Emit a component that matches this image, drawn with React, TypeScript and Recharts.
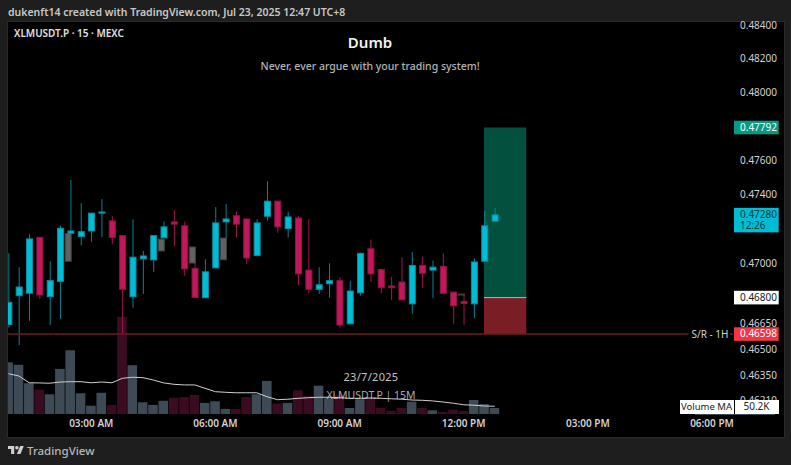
import React from 'react';
import { ComposedChart, Bar, Line, XAxis, YAxis, ReferenceArea, ReferenceLine } from 'recharts';

const FONT = '"Noto Sans", sans-serif';

const opens = [.46645,.46811,.46825,.47149,.46805,.46894,.47173,.47153,.47186,.4729,.47245,.47159,.46805,.47024,.47018,.47146,.47239,.47216,.46969,.46799,.46972,.47239,.47275,.47256,.47043,.47272,.4736,.472,.47262,.46959,.46848,.4688,.46898,.46649,.46828,.47083,.46963,.46867,.4689,.46764,.46986,.46959,.46981,.46832,.46778,.46764,.4701,.47243];
const highs = [.47056,.46976,.47169,.47149,.4701,.47216,.47483,.47348,.4729,.47372,.47273,.47159,.47254,.4707,.47159,.47241,.47309,.47241,.47002,.47022,.47325,.47344,.47299,.47256,.47254,.47477,.4736,.47299,.47273,.47254,.46976,.46998,.46918,.46898,.4706,.47136,.46966,.46921,.47034,.47065,.47037,.47014,.47056,.46832,.46821,.47028,.47303,.47321];
const lows = [.46627,.46527,.46666,.46791,.46642,.46676,.47173,.47103,.47123,.47149,.47109,.46594,.46742,.46821,.46947,.47146,.47095,.46926,.46797,.46799,.46972,.47144,.47149,.46994,.47041,.47247,.47176,.47149,.46873,.46825,.46821,.46799,.46627,.46649,.46811,.4689,.46825,.46785,.46787,.46707,.46857,.46797,.46825,.46649,.46643,.46681,.4701,.47243];
const closes = [.46772,.46861,.4714,.46815,.46898,.47202,.47186,.47182,.4729,.47297,.47149,.46848,.47034,.47041,.47159,.4721,.47226,.46966,.46801,.46949,.47233,.47256,.47226,.47029,.47233,.4736,.4721,.47268,.46937,.46848,.46874,.46898,.46642,.46838,.47056,.46937,.46857,.46857,.46787,.46986,.46941,.46976,.46825,.46752,.46766,.47006,.47216,.4728];
const volumes = [336,320,200,158,128,293,414,135,54,138,59,632,317,76,59,86,106,110,124,72,83,33,33,110,128,215,67,72,154,117,184,102,124,39,96,109,39,21,39,80,39,24,13,28,20,91,65,39];
const volumeMA = [262,247,203,202,200,208,210,210,203,208,203,232,239,236,221,202,193,189,189,167,145,141,138,138,138,112,93,96,102,106,109,109,106,102,102,104,102,99,96,91,89,85,78,70,60,57,52,50.2];

const ghostAt = [6, 15, 18, 21, 44];
const ghostLow = [.4701, .4707, .47, .47019, .46815];
const ghostHigh = [.47172, .47139, .47093, .47145, .4682];

const tickSlots = [8, 20, 32, 44, 56, 68];
const tickLabels = ['03:00 AM', '06:00 AM', '09:00 AM', '12:00 PM', '03:00 PM', '06:00 PM'];

const priceTicks = [.484, .482, .48, .476, .474, .47, .4665, .465, .4635, .4621];
const priceTickText = ['0.48400', '0.48200', '0.48000', '0.47600', '0.47400', '0.47000', '0.46650', '0.46500', '0.46350', '0.46210'];

const targetLevel = .47792;
const lastLevel = .4728;
const entryLevel = .468;
const srLevel = .4659;
const tagLevels = [targetLevel, lastLevel, entryLevel, srLevel];
const tagText = ['0.47792', '0.47280', '0.46800', '0.46598'];
const tagSub = ['', '12:26', '', ''];
const tagBg = ['#089981', '#00bcd4', '#ffffff', '#f23645'];
const tagFg = ['#ffffff', '#0a3a44', '#222222', '#ffffff'];

const boxFrom = 45.96;
const boxTo = 50.05;
const srBreak = 65.7;
const srResume = 69.7;

const xDomain: [number, number] = [-0.05, 70.03];
const priceDomain: [number, number] = [.46133, .48418];
const volDomain: [number, number] = [0, 2548];

const rows: any[] = opens.map((o, i) => {
  const g = ghostAt.indexOf(i);
  return {
    x: i, open: o, close: closes[i], high: highs[i], low: lows[i],
    range: [lows[i], highs[i]], vol: volumes[i], ma: volumeMA[i],
    ghost: g >= 0 ? [ghostLow[g], ghostHigh[g]] : undefined,
  };
});

function CandleShape(props: any) {
  const { x, y, width, height, payload } = props;
  if (!payload || !payload.range) return null;
  const { open, close, high, low } = payload;
  const up = close >= open;
  const k = height / Math.log(high / low);
  const at = (p: number) => y + Math.log(high / p) * k;
  const top = at(Math.max(open, close));
  const bot = at(Math.min(open, close));
  const cx = x + width / 2;
  return (
    <g>
      <line x1={cx} x2={cx} y1={y} y2={y + height} stroke={up ? '#0b8194' : '#a3154e'} strokeWidth={1} />
      <rect x={x + 0.5} y={top} width={width - 1} height={Math.max(bot - top, 1)}
        fill={up ? '#00bcd4' : '#c2185b'} stroke={up ? '#0a8ea2' : '#8f1547'} strokeWidth={1} />
    </g>
  );
}

function GhostShape(props: any) {
  const { x, y, width, height, payload } = props;
  if (!payload || !payload.ghost) return null;
  return <rect x={x - 2.2} y={y} width={width - 1} height={height} fill="#5f6462" stroke="#3f4342" strokeWidth={1} />;
}

function VolShape(props: any) {
  const { x, y, width, height, payload } = props;
  if (!payload) return null;
  const up = payload.close >= payload.open;
  return <rect x={x} y={y} width={width} height={height} fill={up ? '#3e4a55' : '#3b0b22'} />;
}

function PriceTick(props: any) {
  const { y, payload } = props;
  const v = payload.value;
  const tag = tagLevels.indexOf(v);
  const tx = 740;
  if (tag < 0) {
    const t = priceTicks.indexOf(v);
    return <text x={tx} y={y + 3.5} fontSize={10} fontFamily={FONT} fill="#d2d2d2">{priceTickText[t]}</text>;
  }
  const sub = tagSub[tag];
  const h = sub ? 24.5 : 13.6;
  const rectY = sub ? y - 7 : y - h / 2;
  return (
    <g>
      <rect x={734} y={rectY} width={44.7} height={h} fill={tagBg[tag]} />
      <text x={tx} y={rectY + 10} fontSize={10} fontFamily={FONT} fill={tagFg[tag]}>{tagText[tag]}</text>
      {sub ? <text x={tx} y={rectY + 21} fontSize={10} fontFamily={FONT} fill={tagFg[tag]}>{sub}</text> : null}
    </g>
  );
}

function TimeTick(props: any) {
  const { x, y, payload } = props;
  return <text x={x} y={y + 5} textAnchor="middle" fontSize={10} fontWeight={600} fontFamily={FONT} fill="#d2d2d2">{tickLabels[tickSlots.indexOf(payload.value)]}</text>;
}

const abs = (left: number, top: number, extra: React.CSSProperties = {}): React.CSSProperties => ({
  position: 'absolute', left, top, fontFamily: FONT, whiteSpace: 'nowrap', lineHeight: 1, ...extra,
});

export default function App() {
  return (
    <div style={{ position: 'absolute', left: 0, top: 0, width: 791, height: 465, background: '#1e1e1e', overflow: 'hidden' }}>
      <div style={{ position: 'absolute', left: 7, top: 21, width: 776, height: 415, background: '#000', border: '1px solid #2a2a2a' }} />
      <div style={{ position: 'absolute', left: 0, top: 0 }}>
        <ComposedChart width={791} height={465} data={rows} margin={{ top: 22, right: 0, bottom: 0, left: 8 }}>
          <XAxis xAxisId="v" orientation="top" height={0} type="number" dataKey="x" domain={xDomain} allowDataOverflow scale="linear" hide />
          <XAxis xAxisId="g" orientation="top" height={0} type="number" dataKey="x" domain={xDomain} allowDataOverflow scale="linear" hide />
          <XAxis xAxisId="x" type="number" dataKey="x" domain={xDomain} allowDataOverflow scale="linear"
            ticks={tickSlots} interval={0} height={51} axisLine={false} tickLine={false} tick={<TimeTick />} />
          <YAxis yAxisId="p" orientation="right" scale="log" domain={priceDomain} allowDataOverflow width={58}
            ticks={[...priceTicks, ...tagLevels]} interval={0} axisLine={false} tickLine={false} tick={<PriceTick />} />
          <YAxis yAxisId="vol" hide domain={volDomain} allowDataOverflow />

          <Bar xAxisId="v" yAxisId="vol" dataKey="vol" barSize={9.6} shape={<VolShape />} isAnimationActive={false} />
          <Line xAxisId="v" yAxisId="vol" dataKey="ma" stroke="#cfcfcf" strokeWidth={1} dot={false} isAnimationActive={false} />

          <ReferenceArea xAxisId="x" yAxisId="p" x1={boxFrom} x2={boxTo} y1={entryLevel} y2={targetLevel} fill="#04503f" fillOpacity={1} stroke="none" />
          <ReferenceArea xAxisId="x" yAxisId="p" x1={boxFrom} x2={boxTo} y1={srLevel} y2={entryLevel} fill="#7a1d24" fillOpacity={1} stroke="none" />
          <ReferenceLine xAxisId="x" yAxisId="p" stroke="#b9b9b9" strokeWidth={1} segment={[{ x: boxFrom, y: entryLevel }, { x: boxTo, y: entryLevel }]} />
          <ReferenceLine xAxisId="x" yAxisId="p" stroke="#701a22" strokeWidth={1.5} segment={[{ x: xDomain[0], y: srLevel }, { x: srBreak, y: srLevel }]} />
          <ReferenceLine xAxisId="x" yAxisId="p" stroke="#701a22" strokeWidth={1.5} segment={[{ x: srResume, y: srLevel }, { x: xDomain[1], y: srLevel }]} />

          <Bar xAxisId="g" yAxisId="p" dataKey="ghost" barSize={7} shape={<GhostShape />} isAnimationActive={false} />
          <Bar xAxisId="x" yAxisId="p" dataKey="range" barSize={7} shape={<CandleShape />} isAnimationActive={false} />
        </ComposedChart>
      </div>

      <div style={abs(8, 6.5, { fontSize: 10.5, fontWeight: 600, color: '#c8c8c8' })}>dukenft14 created with TradingView.com, Jul 23, 2025 12:47 UTC+8</div>
      <div style={abs(14, 28, { fontSize: 10, fontWeight: 600, color: '#e0e0e0' })}>XLMUSDT.P · 15 · MEXC</div>
      <div style={abs(265, 35, { width: 210, textAlign: 'center', fontSize: 15, fontWeight: 600, color: '#f2f2f2' })}>Dumb</div>
      <div style={abs(215, 61, { width: 310, textAlign: 'center', fontSize: 10.5, fontWeight: 500, color: '#b4b4b4' })}>Never, ever argue with your trading system!</div>
      <div style={abs(271, 371, { width: 200, textAlign: 'center', fontSize: 11, color: '#c4c4c4', letterSpacing: 0.3 })}>23/7/2025</div>
      <div style={abs(271, 390, { width: 200, textAlign: 'center', fontSize: 10.5, color: 'rgba(215,215,215,0.8)' })}>XLMUSDT.P | 15M</div>
      <div style={abs(691.5, 329, { fontSize: 10, color: '#d2d2d2', background: '#000', padding: '0 2px 0 0' })}>S/R - 1H</div>

      <div style={abs(695, 413.5, { width: 80, height: 1, background: '#3e4a55' })} />
      <div style={abs(679.5, 400, { width: 54, height: 13.6, background: '#fff', color: '#222', fontSize: 9.5, textAlign: 'center', lineHeight: '13.6px' })}>Volume MA</div>
      <div style={abs(734.5, 400, { width: 44, height: 13.6, background: '#fff', color: '#222', fontSize: 10, textAlign: 'center', lineHeight: '13.6px' })}>50.2K</div>

      <svg style={{ position: 'absolute', left: 8, top: 445 }} width={16} height={10} viewBox="0 2 36 22">
        <path d="M14 22H7V11H0V4h14v18zM28 22h-8l7.5-18h8L28 22z" fill="#d0d0d0" />
        <circle cx="20" cy="8" r="4" fill="#d0d0d0" />
      </svg>
      <div style={abs(27, 445, { fontSize: 11.5, fontWeight: 500, color: '#b8b8b8' })}>TradingView</div>
    </div>
  );
}
